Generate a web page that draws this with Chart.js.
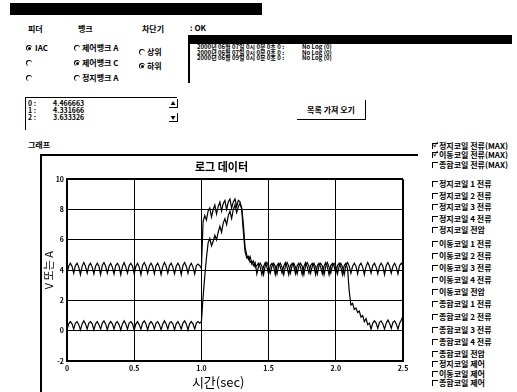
<!DOCTYPE html>
<html>
<head>
<meta charset="utf-8">
<script src="https://cdn.jsdelivr.net/npm/chart.js@4.4.0/dist/chart.umd.min.js"></script>
<style>
  body { margin: 0; width: 517px; height: 392px; background: #fff; position: relative; overflow: hidden;
         font-family: "Noto Sans CJK KR", sans-serif; font-weight: 700; color: #000; }
  .t { position: absolute; white-space: nowrap; font-size: 8px; line-height: 8px; }
  .blk { position: absolute; background: #000; }
  .rb { position: absolute; width: 6px; height: 6px; border-radius: 50%; box-sizing: border-box;
        border-top: 1.5px solid #000; border-left: 1.5px solid #000; }
  .rb.on::after { content: ""; position: absolute; left: 0.5px; top: 0.5px; width: 3px; height: 3px;
                  border-radius: 50%; background: #000; }
  .cb { position: absolute; width: 6px; height: 6px; box-sizing: border-box;
        border-top: 1.5px solid #000; border-left: 1.5px solid #000; }
  .cb.on::after { content: "✓"; position: absolute; left: 0; top: -3px; font-size: 7px; line-height: 7px; }
  .log { position: absolute; left: 197px; font-size: 6px; line-height: 6px; white-space: nowrap; }
  #chart { position: absolute; left: 40px; top: 155px; }
</style>
</head>
<body>
<div class="blk" style="left:10px;top:3px;width:252px;height:12px"></div>

<div class="t" style="left:28px;top:25px">피더</div>
<div class="t" style="left:78px;top:25px">뱅크</div>
<div class="t" style="left:142px;top:25px">차단기</div>
<div class="t" style="left:190px;top:24px">: OK</div>

<div class="rb on" style="left:26px;top:45px"></div><div class="t" style="left:35px;top:44px">IAC</div>
<div class="rb" style="left:26px;top:60px"></div>
<div class="rb" style="left:26px;top:75px"></div>
<div class="rb" style="left:74px;top:45px"></div><div class="t" style="left:82px;top:44px">제어뱅크 A</div>
<div class="rb on" style="left:74px;top:60px"></div><div class="t" style="left:82px;top:59px">제어뱅크 C</div>
<div class="rb" style="left:74px;top:75px"></div><div class="t" style="left:82px;top:74px">정지뱅크 A</div>
<div class="rb" style="left:139px;top:49px"></div><div class="t" style="left:147px;top:48px">상위</div>
<div class="rb on" style="left:139px;top:63px"></div><div class="t" style="left:147px;top:62px">하위</div>

<div class="blk" style="left:188px;top:35px;width:324px;height:9px"></div>
<div class="blk" style="left:188px;top:35px;width:1.5px;height:48px"></div>
<div class="log" style="top:44px">2000년 06월 07일 0시 0분 0초 0 :</div><div class="log" style="left:302px;top:44px">No Log (0)</div>
<div class="log" style="top:49.5px">2000년 06월 07일 0시 0분 0초 0 :</div><div class="log" style="left:302px;top:49.5px">No Log (0)</div>
<div class="log" style="top:55px">2000년 06월 09일 0시 0분 0초 0 :</div><div class="log" style="left:302px;top:55px">No Log (0)</div>

<div style="position:absolute;left:297px;top:100px;width:68px;height:19px;border-right:1px solid #000;border-bottom:1px solid #000;font-size:8px;line-height:19px;text-align:center">목록 가져 오기</div>

<div style="position:absolute;left:25px;top:97px;width:152px;height:33px;border-top:1.5px solid #000;border-left:1.5px solid #000;box-sizing:border-box"></div>
<div class="t" style="left:28px;top:99px;font-size:7px">0 :</div><div class="t" style="left:53px;top:99px;font-size:7px">4.466663</div>
<div class="t" style="left:28px;top:106px;font-size:7px">1 :</div><div class="t" style="left:53px;top:106px;font-size:7px">4.331666</div>
<div class="t" style="left:28px;top:113px;font-size:7px">2 :</div><div class="t" style="left:53px;top:113px;font-size:7px">3.633326</div>
<div class="t" style="left:169px;top:99px;width:8px;height:8px;border-right:1px solid #000;border-bottom:1px solid #000;font-size:5px;text-align:center">▲</div>
<div class="t" style="left:169px;top:113px;width:8px;height:8px;border-right:1px solid #000;border-bottom:1px solid #000;font-size:5px;text-align:center">▼</div>

<div class="t" style="left:28px;top:141px">그래프</div>

<div class="blk" style="left:40px;top:154px;width:378px;height:2px"></div>
<div class="blk" style="left:40px;top:154px;width:1.5px;height:238px"></div>

<canvas id="chart" width="375" height="237" style="width:375px;height:237px"></canvas>
<div id="checks"></div>

<script>
// sampling grid of the logger (sec)
const sampleStep = 0.0125;

// 정지코일 전류(MAX)
const statorPre = [
  3.75,4.25,4.45,4.25, 3.8,4.3,4.45,4.2, 3.7,4.25,4.5,4.25, 3.8,4.3,4.45,4.2, 3.75,4.25,4.45,4.25,
  3.7,4.3,4.5,4.25, 3.8,4.25,4.45,4.2, 3.75,4.3,4.45,4.25, 3.7,4.25,4.5,4.2, 3.8,4.3,4.45,4.25,
  3.75,4.25,4.45,4.2, 3.7,4.3,4.5,4.25, 3.8,4.25,4.45,4.25, 3.75,4.3,4.45,4.2, 3.7,4.25,4.5,4.25,
  3.8,4.3,4.45,4.2, 3.75,4.25,4.45,4.25, 3.7,4.3,4.5,4.25, 3.8,4.25,4.45,4.2, 3.75,4.3,4.4,4.3
];
const statorPeak = [
  4.1,7.2,7.6,7.3,7.9,8.1,7.5,8.0,8.3,7.7,8.2,8.5,7.9,8.4,8.6,8.0,8.5,
  8.7,8.1,8.5,8.7,8.2,8.6,8.5,8.0,6.5,5.2,4.8,4.9,4.5,4.6,4.3,4.5
];
const statorPost = [
  3.75,4.25,4.45,4.25, 3.7,4.3,4.5,4.2, 3.8,4.25,4.45,4.25, 3.75,4.3,4.45,4.2, 3.7,4.25,4.5,4.25,
  3.8,4.3,4.45,4.2, 3.75,4.25,4.45,4.25, 3.7,4.3,4.5,4.25, 3.8,4.25,4.45,4.2, 3.75,4.3,4.45,4.25,
  3.7,4.25,4.5,4.2, 3.8,4.3,4.45,4.25, 3.75,4.25,4.45,4.2, 3.7,4.3,4.5,4.25, 3.8,4.25,4.45,4.25,
  3.75,4.3,4.45,4.2, 3.7,4.25,4.5,4.25, 3.8,4.3,4.45,4.2, 3.75,4.25,4.45,4.25, 3.7,4.3,4.5,4.25,
  3.8,4.25,4.45,4.2, 3.75,4.3,4.45,4.3
];

// 이동코일 전류(MAX)
const moverPre = [
  0.05,0.45,0.6,0.45, 0.1,0.5,0.6,0.4, 0.05,0.45,0.65,0.45, 0.1,0.5,0.6,0.45, 0.05,0.45,0.6,0.4,
  0.1,0.5,0.65,0.45, 0.05,0.45,0.6,0.45, 0.1,0.5,0.6,0.4, 0.05,0.45,0.65,0.45, 0.1,0.5,0.6,0.45,
  0.05,0.45,0.6,0.4, 0.1,0.5,0.65,0.45, 0.05,0.45,0.6,0.45, 0.1,0.5,0.6,0.4, 0.05,0.45,0.65,0.45,
  0.1,0.5,0.6,0.45, 0.05,0.45,0.6,0.4, 0.1,0.5,0.65,0.45, 0.05,0.45,0.6,0.45, 0.1,0.5,0.6,0.5
];
const moverPeak = [
  0.6,2.2,3.6,4.8,5.8,6.1,5.6,5.9,6.3,6.0,6.5,6.9,6.5,7.1,7.4,7.0,7.6,
  7.9,7.4,8.0,8.3,7.8,8.2,8.4,8.1,7.0,5.5,5.0,4.7,4.9,4.4,4.6,4.2
];
const moverMid = [
  4.3,4.45,4.2,3.7, 4.25,4.5,4.2,3.75, 4.3,4.45,4.25,3.7, 4.3,4.45,4.2,3.8, 4.25,4.5,4.2,3.7,
  4.3,4.45,4.25,3.75, 4.3,4.45,4.2,3.7, 4.25,4.5,4.2,3.8, 4.3,4.45,4.25,3.7, 4.3,4.45,4.2,3.75,
  4.25,4.5,4.2,3.7, 4.3,4.45,4.25,3.8, 4.3,4.45,4.2,3.7, 4.3,4.45
];
const moverDrop = [4.1,2.6,1.7,1.8,1.4,1.5,1.2,1.3,0.9,1.0,0.6,0.8,0.4,0.5];
const moverTail = [
  0.1,0.5,0.65,0.5, 0.15,0.55,0.65,0.45, 0.1,0.5,0.7,0.5, 0.15,0.55,0.65,0.45, 0.1,0.5,0.7,0.95
];

const xTicks = [0, 0.5, 1, 1.5, 2, 2.5];
const yTicks = [-2, 0, 2, 4, 6, 8, 10];

const checkItems = [
  ['정지코일 전류(MAX)', true, 146], ['이동코일 전류(MAX)', true, 155], ['종합코일 전류(MAX)', false, 165],
  ['정지코일 1 전류', false, 184], ['정지코일 2 전류', false, 196], ['정지코일 3 전류', false, 207],
  ['정지코일 4 전류', false, 219], ['정지코일 전압', false, 230],
  ['이동코일 1 전류', false, 244], ['이동코일 2 전류', false, 256], ['이동코일 3 전류', false, 268],
  ['이동코일 4 전류', false, 280], ['이동코일 전압', false, 292],
  ['종합코일 1 전류', false, 304], ['종합코일 2 전류', false, 317], ['종합코일 3 전류', false, 330],
  ['종합코일 4 전류', false, 342], ['종합코일 전압', false, 354],
  ['정지코일 제어', false, 364], ['이동코일 제어', false, 374], ['종합코일 제어', false, 383]
];

let html = '';
checkItems.forEach(c => {
  html += '<div class="cb' + (c[1] ? ' on' : '') + '" style="left:432px;top:' + (c[2] - 3) + 'px"></div>';
  html += '<div class="t" style="left:439px;top:' + (c[2] - 4) + 'px">' + c[0] + '</div>';
});
document.getElementById('checks').innerHTML = html;

const pts = arr => arr.map((v, i) => ({ x: i * sampleStep, y: v }));
const statorCurrent = [...statorPre, ...statorPeak, ...statorPost];
const moverCurrent = [...moverPre, ...moverPeak, ...moverMid, ...moverDrop, ...moverTail];

const fam = '"Noto Sans CJK KR", sans-serif';

// x axis caption sits a bit left of the plot centre in the original
const xCaption = {
  id: 'xCaption',
  afterDraw(chart) {
    const c = chart.ctx, a = chart.chartArea;
    c.save();
    c.font = '13px ' + fam;
    c.fillStyle = '#000';
    c.textAlign = 'center';
    c.textBaseline = 'middle';
    c.fillText('시간(sec)', a.left + (a.right - a.left) * 0.45, 227);
    c.restore();
  }
};

const edgeWidth = (lo, hi) => ctx => (ctx.tick && (ctx.tick.value === lo || ctx.tick.value === hi)) ? 2 : 1;

new Chart(document.getElementById('chart'), {
  type: 'line',
  data: {
    datasets: [
      { label: '정지코일 전류(MAX)', data: pts(statorCurrent), borderColor: '#000', borderWidth: 1.2, pointRadius: 0, tension: 0 },
      { label: '이동코일 전류(MAX)', data: pts(moverCurrent), borderColor: '#000', borderWidth: 1.2, pointRadius: 0, tension: 0 }
    ]
  },
  options: {
    responsive: false,
    animation: false,
    layout: { padding: { left: 0, right: 12, top: 0, bottom: 0 } },
    plugins: {
      legend: { display: false },
      tooltip: { enabled: false },
      title: { display: true, text: '로그 데이터', color: '#000',
               font: { family: fam, size: 11, weight: 'bold' }, padding: { top: 5, bottom: 6 } }
    },
    scales: {
      x: {
        type: 'linear', min: 0, max: 2.5,
        afterBuildTicks: s => { s.ticks = xTicks.map(v => ({ value: v })); },
        ticks: { color: '#000', font: { family: fam, size: 7, weight: 'bold' }, padding: 3, maxRotation: 0 },
        grid: { color: '#000', lineWidth: edgeWidth(0, 2.5), drawTicks: false },
        border: { color: '#000', width: 2 },
        afterFit: s => { s.height = 31; }
      },
      y: {
        min: -2, max: 10,
        afterBuildTicks: s => { s.ticks = yTicks.map(v => ({ value: v })); },
        ticks: { color: '#000', font: { family: fam, size: 7, weight: 'bold' }, padding: 3 },
        grid: { color: '#000', lineWidth: edgeWidth(-2, 10), drawTicks: false },
        border: { color: '#000', width: 2 },
        title: { display: true, text: 'V 또는 A', color: '#000', font: { family: fam, size: 11 }, padding: { top: 2, bottom: 0 } },
        afterFit: s => { s.width = 27; }
      }
    }
  },
  plugins: [xCaption]
});
</script>
</body>
</html>
